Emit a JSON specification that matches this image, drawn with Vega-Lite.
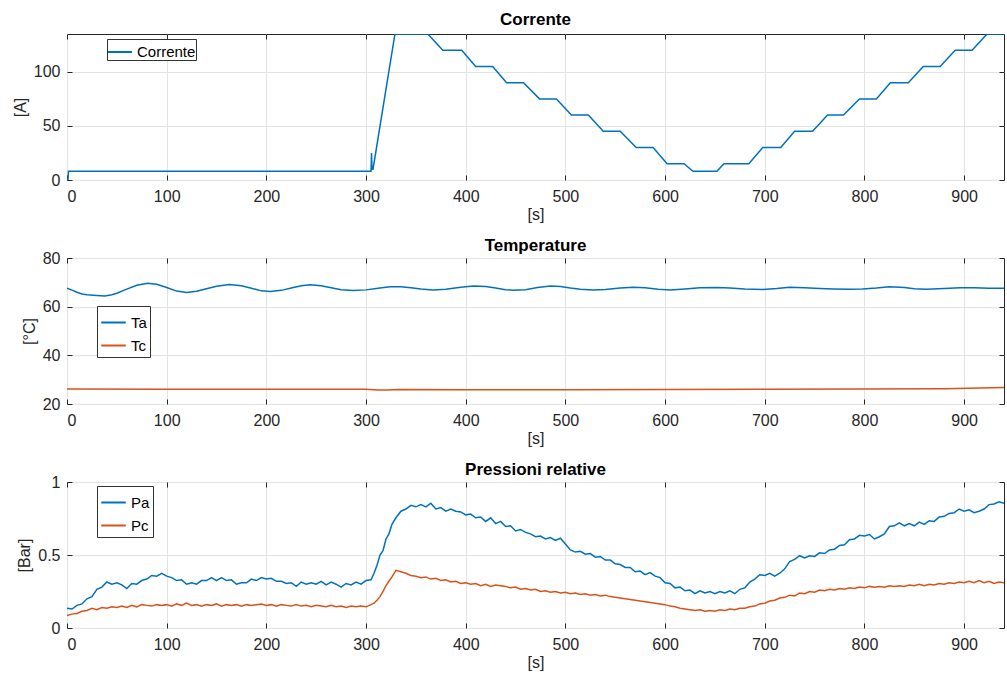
{
  "$schema": "https://vega.github.io/schema/vega-lite/v6.json",
  "background": "white",
  "padding": {"left": 11, "top": 10, "right": 3, "bottom": 5},
  "spacing": 13,
  "config": {
    "font": "Liberation Sans",
    "view": {"stroke": "#262626", "strokeWidth": 1},
    "axis": {"labelFont": "Liberation Sans", "labelFontSize": 16, "labelColor": "#262626", "titleFont": "Liberation Sans", "titleFontSize": 16, "titleFontWeight": "normal", "titleColor": "#262626", "gridColor": "#e3e3e3", "gridWidth": 1, "domain": false, "tickColor": "#262626", "tickSize": -5},
    "axisX": {"labelPadding": 13, "titlePadding": 2},
    "axisY": {"labelPadding": 12, "titlePadding": 5},
    "axisTop": {"labels": false, "grid": false, "title": null},
    "axisRight": {"labels": false, "grid": false, "title": null},
    "title": {"font": "Liberation Sans", "fontSize": 17, "fontWeight": "bold", "color": "#000000"},
    "legend": {"orient": "none", "strokeColor": "#333333", "fillColor": "white", "padding": 3, "symbolType": "stroke", "symbolStrokeWidth": 2, "symbolSize": 600, "labelFont": "Liberation Sans", "labelFontSize": 15, "labelColor": "#000000", "rowPadding": 1, "cornerRadius": 0}
  },
  "resolve": {"scale": {"color": "independent"}, "legend": {"color": "independent"}},
  "vconcat": [
    {
      "width": 937, "height": 146,
      "title": {"text": "Corrente", "offset": 5},
      "data": {"values": [
        {"t":0,"v":0},{"t":1,"v":0},{"t":1.5,"v":8},{"t":305,"v":8},{"t":305.5,"v":25},{"t":306,"v":10},{"t":307,"v":10},{"t":329,"v":135},{"t":362,"v":135},{"t":377,"v":120},{"t":396,"v":120},{"t":410,"v":105},{"t":427,"v":105},{"t":441,"v":90},{"t":458,"v":90},{"t":474,"v":75},{"t":491,"v":75},{"t":506,"v":60},{"t":523,"v":60},{"t":538,"v":45},{"t":555,"v":45},{"t":571,"v":30},{"t":588,"v":30},{"t":602,"v":15},{"t":619,"v":15},{"t":628,"v":8},{"t":652,"v":8},{"t":659,"v":15},{"t":684,"v":15},{"t":698,"v":30},{"t":716,"v":30},{"t":730,"v":45},{"t":748,"v":45},{"t":763,"v":60},{"t":779,"v":60},{"t":795,"v":75},{"t":812,"v":75},{"t":826,"v":90},{"t":844,"v":90},{"t":859,"v":105},{"t":876,"v":105},{"t":891,"v":120},{"t":908,"v":120},{"t":923,"v":135},{"t":940,"v":135}
      ]},
      "transform": [{"calculate": "'Corrente'", "as": "s"}],
      "resolve": {"axis": {"x": "independent", "y": "independent"}},
      "layer": [
        {
          "mark": {"type": "line", "strokeWidth": 1.5, "clip": true},
          "encoding": {
            "x": {"field": "t", "type": "quantitative", "scale": {"domain": [0, 940], "nice": false, "zero": false}, "axis": {"title": "[s]", "values": [0,100,200,300,400,500,600,700,800,900]}},
            "y": {"field": "v", "type": "quantitative", "scale": {"domain": [0, 135], "nice": false}, "axis": {"title": "[A]", "values": [0,50,100]}},
            "color": {"field": "s", "type": "nominal", "scale": {"domain": ["Corrente"], "range": ["#0072BD"]}, "legend": {"title": null, "legendX": 40, "legendY": 5, "symbolSize": 576, "padding": 0}}
          }
        },
        {
          "mark": {"type": "line", "strokeOpacity": 0, "clip": true},
          "encoding": {
            "x": {"field": "t", "type": "quantitative", "axis": {"orient": "top", "values": [0,100,200,300,400,500,600,700,800,900]}},
            "y": {"field": "v", "type": "quantitative", "axis": {"orient": "right", "values": [0,50,100]}}
          }
        }
      ]
    },
    {
      "width": 937, "height": 146,
      "title": {"text": "Temperature", "offset": -5},
      "data": {"values": [
        {"t":0,"s":"Ta","v":67.6},{"t":5,"s":"Ta","v":66.8},{"t":10,"s":"Ta","v":65.9},{"t":15,"s":"Ta","v":65.2},{"t":20,"s":"Ta","v":64.9},{"t":30,"s":"Ta","v":64.6},{"t":38,"s":"Ta","v":64.4},{"t":45,"s":"Ta","v":64.9},{"t":50,"s":"Ta","v":65.5},{"t":60,"s":"Ta","v":67.2},{"t":70,"s":"Ta","v":68.8},{"t":81,"s":"Ta","v":69.6},{"t":90,"s":"Ta","v":69.2},{"t":100,"s":"Ta","v":67.9},{"t":110,"s":"Ta","v":66.4},{"t":120,"s":"Ta","v":65.8},{"t":130,"s":"Ta","v":66.3},{"t":140,"s":"Ta","v":67.4},{"t":150,"s":"Ta","v":68.4},{"t":163,"s":"Ta","v":69.1},{"t":175,"s":"Ta","v":68.6},{"t":185,"s":"Ta","v":67.6},{"t":195,"s":"Ta","v":66.5},{"t":204,"s":"Ta","v":66.2},{"t":215,"s":"Ta","v":66.7},{"t":225,"s":"Ta","v":67.7},{"t":235,"s":"Ta","v":68.6},{"t":244,"s":"Ta","v":69.0},{"t":255,"s":"Ta","v":68.6},{"t":265,"s":"Ta","v":67.8},{"t":275,"s":"Ta","v":67.0},{"t":287,"s":"Ta","v":66.6},{"t":300,"s":"Ta","v":66.9},{"t":312,"s":"Ta","v":67.6},{"t":324,"s":"Ta","v":68.2},{"t":335,"s":"Ta","v":68.2},{"t":345,"s":"Ta","v":67.8},{"t":355,"s":"Ta","v":67.3},{"t":367,"s":"Ta","v":66.9},{"t":380,"s":"Ta","v":67.2},{"t":395,"s":"Ta","v":68.0},{"t":408,"s":"Ta","v":68.5},{"t":420,"s":"Ta","v":68.3},{"t":430,"s":"Ta","v":67.7},{"t":440,"s":"Ta","v":67.0},{"t":448,"s":"Ta","v":66.7},{"t":460,"s":"Ta","v":67.0},{"t":472,"s":"Ta","v":67.9},{"t":485,"s":"Ta","v":68.5},{"t":495,"s":"Ta","v":68.3},{"t":505,"s":"Ta","v":67.7},{"t":515,"s":"Ta","v":67.2},{"t":528,"s":"Ta","v":66.9},{"t":540,"s":"Ta","v":67.1},{"t":555,"s":"Ta","v":67.7},{"t":568,"s":"Ta","v":68.0},{"t":580,"s":"Ta","v":67.8},{"t":593,"s":"Ta","v":67.2},{"t":605,"s":"Ta","v":66.9},{"t":620,"s":"Ta","v":67.3},{"t":635,"s":"Ta","v":67.8},{"t":652,"s":"Ta","v":67.9},{"t":665,"s":"Ta","v":67.7},{"t":680,"s":"Ta","v":67.3},{"t":698,"s":"Ta","v":67.1},{"t":712,"s":"Ta","v":67.5},{"t":725,"s":"Ta","v":68.0},{"t":740,"s":"Ta","v":67.8},{"t":755,"s":"Ta","v":67.5},{"t":769,"s":"Ta","v":67.3},{"t":785,"s":"Ta","v":67.2},{"t":798,"s":"Ta","v":67.3},{"t":812,"s":"Ta","v":67.7},{"t":825,"s":"Ta","v":68.2},{"t":840,"s":"Ta","v":67.9},{"t":850,"s":"Ta","v":67.4},{"t":862,"s":"Ta","v":67.2},{"t":880,"s":"Ta","v":67.5},{"t":896,"s":"Ta","v":67.8},{"t":910,"s":"Ta","v":67.8},{"t":925,"s":"Ta","v":67.6},{"t":940,"s":"Ta","v":67.6},
        {"t":0,"s":"Tc","v":26.2},{"t":100,"s":"Tc","v":26.1},{"t":200,"s":"Tc","v":26.1},{"t":300,"s":"Tc","v":26.1},{"t":312,"s":"Tc","v":25.8},{"t":322,"s":"Tc","v":25.8},{"t":332,"s":"Tc","v":26.0},{"t":400,"s":"Tc","v":25.9},{"t":500,"s":"Tc","v":25.9},{"t":600,"s":"Tc","v":26.0},{"t":700,"s":"Tc","v":26.1},{"t":800,"s":"Tc","v":26.2},{"t":880,"s":"Tc","v":26.3},{"t":940,"s":"Tc","v":26.8}
      ]},
      "resolve": {"axis": {"x": "independent", "y": "independent"}},
      "layer": [
        {
          "mark": {"type": "line", "strokeWidth": 1.5, "clip": true},
          "encoding": {
            "x": {"field": "t", "type": "quantitative", "scale": {"domain": [0, 940], "nice": false, "zero": false}, "axis": {"title": "[s]", "values": [0,100,200,300,400,500,600,700,800,900]}},
            "y": {"field": "v", "type": "quantitative", "scale": {"domain": [20, 80], "nice": false, "zero": false}, "axis": {"title": "[°C]", "values": [20,40,60,80]}},
            "color": {"field": "s", "type": "nominal", "scale": {"domain": ["Ta", "Tc"], "range": ["#0072BD", "#D95319"]}, "legend": {"title": null, "legendX": 30, "legendY": 48}}
          }
        },
        {
          "mark": {"type": "line", "strokeOpacity": 0, "clip": true},
          "encoding": {
            "x": {"field": "t", "type": "quantitative", "axis": {"orient": "top", "values": [0,100,200,300,400,500,600,700,800,900]}},
            "y": {"field": "v", "type": "quantitative", "axis": {"orient": "right", "values": [20,40,60,80]}},
            "detail": {"field": "s"}
          }
        }
      ]
    },
    {
      "width": 937, "height": 146,
      "title": {"text": "Pressioni relative", "offset": -5},
      "data": {"values": [
        {"t":0,"Pa":0.135,"Pc":0.085},{"t":5,"Pa":0.13,"Pc":0.095},{"t":10,"Pa":0.155,"Pc":0.1},{"t":15,"Pa":0.165,"Pc":0.115},{"t":20,"Pa":0.2,"Pc":0.12},{"t":25,"Pa":0.215,"Pc":0.135},{"t":30,"Pa":0.265,"Pc":0.125},{"t":35,"Pa":0.28,"Pc":0.14},{"t":40,"Pa":0.315,"Pc":0.135},{"t":45,"Pa":0.3,"Pc":0.145},
        {"t":50,"Pa":0.31,"Pc":0.14},{"t":55,"Pa":0.295,"Pc":0.15},{"t":60,"Pa":0.27,"Pc":0.14},{"t":65,"Pa":0.305,"Pc":0.155},{"t":70,"Pa":0.3,"Pc":0.145},{"t":75,"Pa":0.325,"Pc":0.16},{"t":80,"Pa":0.335,"Pc":0.155},{"t":85,"Pa":0.36,"Pc":0.15},{"t":90,"Pa":0.355,"Pc":0.16},{"t":95,"Pa":0.375,"Pc":0.155},
        {"t":100,"Pa":0.355,"Pc":0.16},{"t":105,"Pa":0.345,"Pc":0.15},{"t":110,"Pa":0.325,"Pc":0.165},{"t":115,"Pa":0.33,"Pc":0.155},{"t":120,"Pa":0.3,"Pc":0.17},{"t":125,"Pa":0.31,"Pc":0.155},{"t":130,"Pa":0.3,"Pc":0.16},{"t":135,"Pa":0.325,"Pc":0.15},{"t":140,"Pa":0.325,"Pc":0.16},{"t":145,"Pa":0.345,"Pc":0.155},
        {"t":150,"Pa":0.325,"Pc":0.165},{"t":155,"Pa":0.345,"Pc":0.15},{"t":160,"Pa":0.325,"Pc":0.16},{"t":165,"Pa":0.33,"Pc":0.155},{"t":170,"Pa":0.3,"Pc":0.16},{"t":175,"Pa":0.31,"Pc":0.15},{"t":180,"Pa":0.31,"Pc":0.16},{"t":185,"Pa":0.335,"Pc":0.155},{"t":190,"Pa":0.325,"Pc":0.16},{"t":195,"Pa":0.345,"Pc":0.165},
        {"t":200,"Pa":0.335,"Pc":0.155},{"t":205,"Pa":0.34,"Pc":0.16},{"t":210,"Pa":0.32,"Pc":0.15},{"t":215,"Pa":0.32,"Pc":0.16},{"t":220,"Pa":0.305,"Pc":0.155},{"t":225,"Pa":0.31,"Pc":0.15},{"t":230,"Pa":0.285,"Pc":0.16},{"t":235,"Pa":0.315,"Pc":0.15},{"t":240,"Pa":0.3,"Pc":0.155},{"t":245,"Pa":0.31,"Pc":0.145},
        {"t":250,"Pa":0.3,"Pc":0.155},{"t":255,"Pa":0.32,"Pc":0.15},{"t":260,"Pa":0.295,"Pc":0.145},{"t":265,"Pa":0.315,"Pc":0.155},{"t":270,"Pa":0.3,"Pc":0.145},{"t":275,"Pa":0.28,"Pc":0.15},{"t":280,"Pa":0.305,"Pc":0.14},{"t":285,"Pa":0.295,"Pc":0.15},{"t":290,"Pa":0.315,"Pc":0.145},{"t":295,"Pa":0.3,"Pc":0.15},
        {"t":300,"Pa":0.325,"Pc":0.145},{"t":305,"Pa":0.33,"Pc":0.16},{"t":308,"Pa":0.375,"Pc":0.17},{"t":311,"Pa":0.43,"Pc":0.19},{"t":314,"Pa":0.5,"Pc":0.215},{"t":317,"Pa":0.53,"Pc":0.25},{"t":320,"Pa":0.61,"Pc":0.29},{"t":323,"Pa":0.645,"Pc":0.32},{"t":326,"Pa":0.71,"Pc":0.35},{"t":330,"Pa":0.755,"Pc":0.395},
        {"t":335,"Pa":0.8,"Pc":0.385},{"t":340,"Pa":0.815,"Pc":0.375},{"t":345,"Pa":0.84,"Pc":0.36},{"t":350,"Pa":0.83,"Pc":0.355},{"t":355,"Pa":0.845,"Pc":0.345},{"t":360,"Pa":0.83,"Pc":0.35},{"t":365,"Pa":0.855,"Pc":0.335},{"t":370,"Pa":0.815,"Pc":0.34},{"t":375,"Pa":0.825,"Pc":0.325},{"t":380,"Pa":0.8,"Pc":0.33},
        {"t":385,"Pa":0.815,"Pc":0.315},{"t":390,"Pa":0.8,"Pc":0.32},{"t":395,"Pa":0.795,"Pc":0.305},{"t":400,"Pa":0.775,"Pc":0.31},{"t":405,"Pa":0.78,"Pc":0.3},{"t":410,"Pa":0.755,"Pc":0.305},{"t":415,"Pa":0.76,"Pc":0.29},{"t":420,"Pa":0.73,"Pc":0.3},{"t":425,"Pa":0.755,"Pc":0.285},{"t":430,"Pa":0.715,"Pc":0.295},
        {"t":435,"Pa":0.73,"Pc":0.29},{"t":440,"Pa":0.695,"Pc":0.285},{"t":445,"Pa":0.7,"Pc":0.275},{"t":450,"Pa":0.665,"Pc":0.28},{"t":455,"Pa":0.675,"Pc":0.265},{"t":460,"Pa":0.655,"Pc":0.27},{"t":465,"Pa":0.645,"Pc":0.26},{"t":470,"Pa":0.625,"Pc":0.265},{"t":475,"Pa":0.63,"Pc":0.25},{"t":480,"Pa":0.61,"Pc":0.255},
        {"t":485,"Pa":0.62,"Pc":0.245},{"t":490,"Pa":0.6,"Pc":0.25},{"t":495,"Pa":0.615,"Pc":0.24},{"t":500,"Pa":0.575,"Pc":0.245},{"t":505,"Pa":0.535,"Pc":0.235},{"t":510,"Pa":0.52,"Pc":0.24},{"t":515,"Pa":0.525,"Pc":0.23},{"t":520,"Pa":0.505,"Pc":0.235},{"t":525,"Pa":0.51,"Pc":0.225},{"t":530,"Pa":0.485,"Pc":0.23},
        {"t":535,"Pa":0.49,"Pc":0.22},{"t":540,"Pa":0.465,"Pc":0.225},{"t":545,"Pa":0.465,"Pc":0.215},{"t":550,"Pa":0.44,"Pc":0.21},{"t":555,"Pa":0.435,"Pc":0.205},{"t":560,"Pa":0.415,"Pc":0.2},{"t":565,"Pa":0.415,"Pc":0.195},{"t":570,"Pa":0.385,"Pc":0.19},{"t":575,"Pa":0.39,"Pc":0.185},{"t":580,"Pa":0.365,"Pc":0.18},
        {"t":585,"Pa":0.38,"Pc":0.175},{"t":590,"Pa":0.355,"Pc":0.17},{"t":595,"Pa":0.345,"Pc":0.165},{"t":600,"Pa":0.31,"Pc":0.16},{"t":605,"Pa":0.305,"Pc":0.15},{"t":610,"Pa":0.275,"Pc":0.145},{"t":615,"Pa":0.28,"Pc":0.135},{"t":620,"Pa":0.255,"Pc":0.13},{"t":625,"Pa":0.26,"Pc":0.125},{"t":630,"Pa":0.235,"Pc":0.12},
        {"t":635,"Pa":0.255,"Pc":0.125},{"t":640,"Pa":0.24,"Pc":0.115},{"t":645,"Pa":0.25,"Pc":0.12},{"t":650,"Pa":0.235,"Pc":0.115},{"t":655,"Pa":0.25,"Pc":0.125},{"t":660,"Pa":0.24,"Pc":0.12},{"t":665,"Pa":0.255,"Pc":0.13},{"t":670,"Pa":0.235,"Pc":0.125},{"t":675,"Pa":0.265,"Pc":0.135},{"t":680,"Pa":0.275,"Pc":0.135},
        {"t":685,"Pa":0.315,"Pc":0.145},{"t":690,"Pa":0.335,"Pc":0.15},{"t":695,"Pa":0.365,"Pc":0.165},{"t":700,"Pa":0.36,"Pc":0.17},{"t":705,"Pa":0.375,"Pc":0.185},{"t":710,"Pa":0.355,"Pc":0.19},{"t":715,"Pa":0.375,"Pc":0.205},{"t":720,"Pa":0.405,"Pc":0.21},{"t":725,"Pa":0.455,"Pc":0.225},{"t":730,"Pa":0.47,"Pc":0.22},
        {"t":735,"Pa":0.495,"Pc":0.24},{"t":740,"Pa":0.48,"Pc":0.235},{"t":745,"Pa":0.495,"Pc":0.25},{"t":750,"Pa":0.49,"Pc":0.245},{"t":755,"Pa":0.515,"Pc":0.26},{"t":760,"Pa":0.51,"Pc":0.255},{"t":765,"Pa":0.535,"Pc":0.265},{"t":770,"Pa":0.54,"Pc":0.26},{"t":775,"Pa":0.565,"Pc":0.27},{"t":780,"Pa":0.57,"Pc":0.265},
        {"t":785,"Pa":0.605,"Pc":0.275},{"t":790,"Pa":0.61,"Pc":0.27},{"t":795,"Pa":0.635,"Pc":0.28},{"t":800,"Pa":0.63,"Pc":0.275},{"t":805,"Pa":0.64,"Pc":0.285},{"t":810,"Pa":0.61,"Pc":0.28},{"t":815,"Pa":0.625,"Pc":0.285},{"t":820,"Pa":0.645,"Pc":0.28},{"t":825,"Pa":0.695,"Pc":0.29},{"t":830,"Pa":0.7,"Pc":0.285},
        {"t":835,"Pa":0.72,"Pc":0.29},{"t":840,"Pa":0.7,"Pc":0.285},{"t":845,"Pa":0.715,"Pc":0.295},{"t":850,"Pa":0.7,"Pc":0.29},{"t":855,"Pa":0.725,"Pc":0.3},{"t":860,"Pa":0.71,"Pc":0.29},{"t":865,"Pa":0.735,"Pc":0.3},{"t":870,"Pa":0.73,"Pc":0.295},{"t":875,"Pa":0.76,"Pc":0.305},{"t":880,"Pa":0.765,"Pc":0.3},
        {"t":885,"Pa":0.785,"Pc":0.31},{"t":890,"Pa":0.79,"Pc":0.305},{"t":895,"Pa":0.815,"Pc":0.315},{"t":900,"Pa":0.8,"Pc":0.31},{"t":905,"Pa":0.81,"Pc":0.32},{"t":910,"Pa":0.79,"Pc":0.31},{"t":915,"Pa":0.8,"Pc":0.325},{"t":920,"Pa":0.815,"Pc":0.31},{"t":925,"Pa":0.845,"Pc":0.32},{"t":930,"Pa":0.85,"Pc":0.305},
        {"t":935,"Pa":0.865,"Pc":0.315},{"t":940,"Pa":0.855,"Pc":0.31}
      ]},
      "transform": [{"fold": ["Pa", "Pc"], "as": ["s", "v"]}],
      "resolve": {"axis": {"x": "independent", "y": "independent"}},
      "layer": [
        {
          "mark": {"type": "line", "strokeWidth": 1.5, "clip": true},
          "encoding": {
            "x": {"field": "t", "type": "quantitative", "scale": {"domain": [0, 940], "nice": false, "zero": false}, "axis": {"title": "[s]", "values": [0,100,200,300,400,500,600,700,800,900]}},
            "y": {"field": "v", "type": "quantitative", "scale": {"domain": [0, 1], "nice": false}, "axis": {"title": "[Bar]", "values": [0,0.5,1], "format": "~g"}},
            "color": {"field": "s", "type": "nominal", "scale": {"domain": ["Pa", "Pc"], "range": ["#0072BD", "#D95319"]}, "legend": {"title": null, "legendX": 30, "legendY": 4}}
          }
        },
        {
          "mark": {"type": "line", "strokeOpacity": 0, "clip": true},
          "encoding": {
            "x": {"field": "t", "type": "quantitative", "axis": {"orient": "top", "values": [0,100,200,300,400,500,600,700,800,900]}},
            "y": {"field": "v", "type": "quantitative", "axis": {"orient": "right", "values": [0,0.5,1]}},
            "detail": {"field": "s"}
          }
        }
      ]
    }
  ]
}
